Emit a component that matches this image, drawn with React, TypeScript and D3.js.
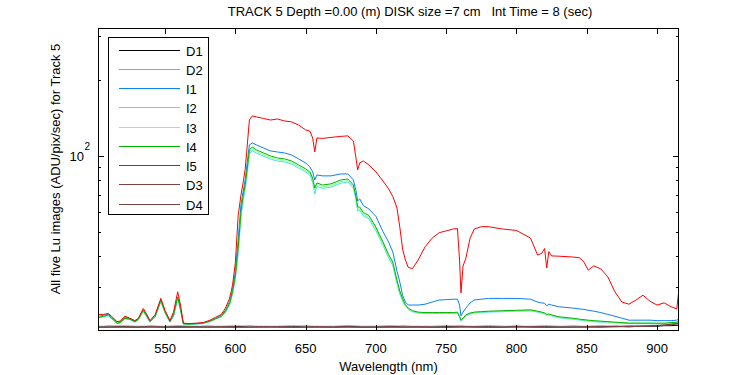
import React from "react";
import * as d3 from "d3";

// ---------- DATA ----------
const WL = [
  503, 506, 509.6, 512, 515.8, 518, 521.5, 525, 528.6, 531,
  534.5, 537, 539.3, 543, 547, 550, 553.5, 556, 559, 561,
  563, 567, 572, 577, 582, 586, 590, 593, 596, 598,
  600, 602, 604, 605.5, 607, 608.5, 610, 612, 615, 620,
  625, 630, 635, 640, 645, 650, 653, 655, 656.5, 658,
  662, 668, 675, 680, 684, 686, 687, 688.5, 691, 695,
  700, 705, 709, 712, 715, 717, 719, 721, 723, 726,
  730, 735, 740, 745, 750, 755, 758, 759.5, 760.5, 762,
  764, 767, 770, 775, 780, 790, 800, 810, 815, 818,
  820, 821.5, 823, 825, 830, 840, 845, 848, 851, 855,
  860, 865, 870, 875, 880, 885, 890, 895, 900, 905,
  910, 914, 915.5,
];

const I5 = [
  23.4, 23.4, 23.6, 23.0, 21.9, 22.0, 23.0, 22.6, 22.1, 22.6,
  24.7, 23.4, 22.1, 23.4, 27.1, 24.3, 22.1, 23.9, 28.8, 25.5,
  21.6, 21.5, 21.6, 21.7, 22.2, 22.8, 23.4, 24.8, 27.2, 30.6,
  37.5, 57.7, 69.9, 78.1, 88.4, 110.6, 139.1, 144.3, 143.0, 141.0,
  139.0, 140.3, 137.8, 136.6, 132.8, 126.9, 125.6, 117.9, 103.7, 117.9,
  117.4, 118.5, 119.6, 120.2, 114.6, 96.4, 88.0, 93.8, 95.5, 92.1,
  86.4, 79.5, 74.0, 69.0, 62.0, 52.0, 42.5, 38.5, 36.0, 35.6,
  38.5, 43.5, 47.1, 49.5, 50.3, 51.2, 51.4, 38.5, 28.5, 36.5,
  39.2, 47.1, 51.2, 52.3, 52.3, 51.2, 50.5, 47.1, 40.3, 41.0,
  42.8, 35.8, 41.6, 40.0, 39.9, 39.6, 39.3, 37.8, 35.1, 36.5,
  35.5, 33.0, 28.8, 26.2, 25.7, 26.7, 27.9, 26.4, 25.5, 26.0,
  25.1, 24.6, 29.2,
];

const I1 = [
  23.0, 23.2, 23.4, 22.8, 21.8, 21.8, 22.8, 22.5, 22.0, 22.4,
  24.3, 23.3, 21.9, 23.0, 26.4, 23.9, 21.9, 23.0, 27.4, 24.8,
  21.5, 21.4, 21.5, 21.6, 22.0, 22.6, 23.2, 24.3, 26.4, 29.2,
  34.5, 46.3, 63.8, 71.9, 80.2, 94.6, 110.6, 112.7, 110.6, 107.6,
  104.7, 103.7, 102.8, 100.9, 97.3, 93.8, 90.4, 86.4, 80.2, 84.0,
  83.3, 83.3, 84.8, 84.8, 80.2, 71.9, 66.2, 67.4, 63.5, 61.5,
  57.5, 50.0, 45.5, 41.5, 34.8, 31.5, 27.8, 26.2, 25.5, 25.5,
  25.5, 25.7, 26.2, 26.7, 26.8, 26.9, 26.9, 25.5, 23.1, 23.9,
  24.8, 26.0, 26.7, 26.9, 27.1, 27.1, 27.1, 26.9, 26.2, 26.0,
  25.9, 25.3, 25.7, 25.5, 25.1, 24.8, 24.6, 24.5, 24.3, 24.1,
  23.8, 23.4, 23.0, 22.6, 22.2, 22.2, 22.2, 22.2, 22.1, 22.1,
  22.1, 22.2, 22.4,
];

const I2 = [
  22.7, 22.9, 23.1, 22.5, 21.6, 21.6, 22.5, 22.3, 21.8, 22.2,
  24.0, 22.9, 21.8, 22.9, 26.3, 23.7, 21.8, 23.1, 27.0, 24.3,
  21.4, 21.3, 21.4, 21.5, 21.9, 22.4, 22.9, 23.8, 25.6, 28.1,
  32.4, 41.0, 57.0, 66.5, 73.8, 86.5, 102.0, 105.2, 102.6, 99.8,
  97.2, 95.4, 94.6, 92.8, 89.5, 86.3, 84.0, 78.5, 70.5, 75.6,
  74.3, 75.1, 77.9, 78.7, 74.4, 66.0, 60.4, 60.8, 57.8, 56.2,
  50.4, 44.2, 39.3, 36.6, 31.0, 28.2, 26.4, 25.2, 24.5, 24.0,
  23.7, 23.6, 23.6, 23.6, 23.6, 23.6, 23.7, 22.8, 22.0, 22.4,
  23.1, 23.5, 23.7, 23.8, 23.9, 24.0, 24.1, 24.2, 23.9, 23.7,
  23.5, 23.2, 23.3, 23.1, 22.7, 22.4, 22.2, 22.1, 22.0, 21.9,
  21.8, 21.8, 21.7, 21.6, 21.5, 21.5, 21.5, 21.5, 21.5, 21.5,
  21.5, 21.6, 21.8,
];

const I3 = [
  22.8, 23.0, 23.2, 22.6, 21.7, 21.7, 22.6, 22.4, 21.9, 22.3,
  24.2, 23.0, 21.9, 23.0, 26.6, 23.8, 21.9, 23.2, 27.3, 24.5,
  21.5, 21.4, 21.5, 21.6, 22.0, 22.5, 23.0, 24.0, 25.9, 28.5,
  32.9, 42.0, 58.5, 68.2, 75.4, 88.0, 103.8, 107.0, 104.2, 101.3,
  98.6, 96.8, 95.9, 94.1, 90.8, 87.5, 85.1, 80.4, 73.2, 76.9,
  75.4, 76.2, 79.0, 79.8, 75.4, 66.9, 61.6, 61.6, 58.6, 57.1,
  51.2, 44.8, 39.9, 37.2, 31.5, 28.6, 26.7, 25.4, 24.6, 24.1,
  23.8, 23.7, 23.7, 23.7, 23.7, 23.7, 23.8, 22.9, 22.1, 22.5,
  23.2, 23.6, 23.8, 23.9, 24.0, 24.1, 24.2, 24.3, 24.0, 23.8,
  23.6, 23.3, 23.4, 23.2, 22.8, 22.5, 22.3, 22.2, 22.1, 22.0,
  21.9, 21.8, 21.7, 21.7, 21.6, 21.6, 21.6, 21.6, 21.5, 21.5,
  21.6, 21.7, 21.9,
];

const I4 = [
  22.8, 23.0, 23.3, 22.6, 21.6, 21.7, 22.6, 22.4, 21.9, 22.4,
  24.3, 23.0, 21.9, 23.0, 26.7, 23.9, 21.9, 23.3, 27.4, 24.5,
  21.5, 21.4, 21.5, 21.6, 22.0, 22.5, 23.0, 24.1, 26.0, 28.8,
  33.3, 43.0, 59.8, 69.3, 76.6, 89.6, 105.7, 108.6, 105.7, 102.8,
  100.0, 98.2, 97.3, 95.5, 92.1, 88.8, 86.4, 81.7, 74.6, 78.1,
  76.6, 77.4, 80.2, 81.0, 76.6, 68.0, 62.6, 62.6, 59.5, 58.0,
  52.0, 45.5, 40.5, 37.8, 32.0, 29.0, 27.0, 25.6, 24.8, 24.2,
  23.9, 23.8, 23.8, 23.8, 23.8, 23.8, 23.9, 23.0, 22.2, 22.6,
  23.3, 23.7, 23.9, 24.0, 24.1, 24.2, 24.3, 24.4, 24.1, 23.9,
  23.7, 23.4, 23.5, 23.3, 22.9, 22.6, 22.4, 22.3, 22.2, 22.1,
  22.0, 21.9, 21.8, 21.7, 21.6, 21.6, 21.6, 21.6, 21.6, 21.6,
  21.7, 21.8, 22.0,
];

const DARK_WL = [
  503, 510, 520, 530, 540, 550, 560, 570, 580, 590,
  600, 610, 620, 630, 640, 650, 660, 670, 680, 690,
  700, 710, 720, 730, 740, 750, 760, 770, 780, 790,
  800, 810, 820, 830, 840, 850, 860, 870, 880, 890,
  900, 905, 910, 915.5,
];

const D1 = [
  20.9, 21.0, 20.9, 20.9, 21.0, 20.9, 20.9, 20.9, 21.0, 20.9,
  20.9, 21.0, 20.9, 20.9, 20.9, 21.0, 20.9, 20.9, 21.0, 20.9,
  20.9, 20.9, 21.0, 20.9, 20.9, 20.9, 21.0, 20.9, 20.9, 20.9,
  21.0, 20.9, 20.9, 20.9, 21.0, 20.9, 20.9, 21.0, 20.9, 21.0,
  21.0, 21.1, 21.1, 21.2,
];
const D2 = [
  21.0, 21.0, 21.1, 21.0, 21.0, 21.0, 21.1, 21.0, 21.0, 21.0,
  21.1, 21.0, 21.0, 21.0, 21.1, 21.0, 21.0, 21.0, 21.1, 21.0,
  21.0, 21.1, 21.0, 21.0, 21.0, 21.1, 21.0, 21.0, 21.1, 21.0,
  21.0, 21.0, 21.1, 21.0, 21.0, 21.0, 21.1, 21.0, 21.1, 21.1,
  21.2, 21.3, 21.4, 21.5,
];
const D3 = [
  20.8, 20.8, 20.9, 20.8, 20.8, 20.8, 20.8, 20.9, 20.8, 20.8,
  20.8, 20.8, 20.9, 20.8, 20.8, 20.8, 20.9, 20.8, 20.8, 20.8,
  20.8, 20.9, 20.8, 20.8, 20.8, 20.8, 20.9, 20.8, 20.8, 20.8,
  20.9, 20.8, 20.8, 20.8, 20.8, 20.9, 20.8, 20.9, 20.9, 21.0,
  21.1, 21.2, 21.4, 21.6,
];
const D4 = [
  20.8, 20.8, 20.8, 20.8, 20.9, 20.8, 20.8, 20.8, 20.8, 20.9,
  20.8, 20.8, 20.8, 20.9, 20.8, 20.8, 20.8, 20.8, 20.9, 20.8,
  20.8, 20.8, 20.8, 20.9, 20.8, 20.8, 20.8, 20.9, 20.8, 20.8,
  20.8, 20.9, 20.8, 20.8, 20.8, 20.8, 20.9, 20.9, 21.0, 21.0,
  21.1, 21.2, 21.3, 21.5,
];

const SERIES_NAMES = ["D1", "D2", "I1", "I2", "I3", "I4", "I5", "D3", "D4"];
const SERIES_COLORS = ["#000000", "#a0a0a0", "#0a80f5", "#3ee0f5", "#80ff80", "#00b400", "#ff0000", "#804040", "#7a4444"];

const X_TICKS = [550, 600, 650, 700, 750, 800, 850, 900];
const Y_MINOR = [30, 40, 50, 60, 70, 80, 90, 200, 300];
const Y_MAJOR = [100];

const TITLE = "TRACK 5 Depth =0.00 (m) DISK size =7 cm   Int Time = 8 (sec)";
const X_LABEL = "Wavelength (nm)";
const Y_LABEL = "All five Lu images (ADU/pix/sec) for Track 5";

// ---------- LAYOUT ----------
const W = 750;
const H = 375;
const L = 98;
const R = 679;
const T = 28;
const B = 331;
const FONT = "'Liberation Sans', Arial, Helvetica, sans-serif";
const FS = 13;

export default function App() {
  const x = d3.scaleLinear().domain([502.3, 915.6]).range([L, R]);
  const y = d3.scaleLog().domain([20.1, 323]).range([B, T]);
  const line = d3
    .line<[number, number]>()
    .x((d) => x(d[0]))
    .y((d) => y(d[1]));

  const seriesData: [number, number][][] = [
    DARK_WL.map((w, i) => [w, D1[i]] as [number, number]),
    DARK_WL.map((w, i) => [w, D2[i]] as [number, number]),
    WL.map((w, i) => [w, I1[i]] as [number, number]),
    WL.map((w, i) => [w, I2[i]] as [number, number]),
    WL.map((w, i) => [w, I3[i]] as [number, number]),
    WL.map((w, i) => [w, I4[i]] as [number, number]),
    WL.map((w, i) => [w, I5[i]] as [number, number]),
    DARK_WL.map((w, i) => [w, D3[i]] as [number, number]),
    DARK_WL.map((w, i) => [w, D4[i]] as [number, number]),
  ];

  const px = (v: number) => Math.round(v) + 0.5;

  const legendX = 108.5;
  const legendY = 37.5;
  const legendW = 100;
  const legendH = 177;
  const rowStep = 19.25;
  const row0 = 49.5;

  return (
    <svg
      width={W}
      height={H}
      style={{ position: "absolute", left: 0, top: 0, background: "#fff" }}
      fontFamily={FONT}
    >
      <rect x={0} y={0} width={W} height={H} fill="#fff" />
      <defs>
        <clipPath id="plotClip">
          <rect x={L} y={T} width={R - L} height={B - T} />
        </clipPath>
      </defs>

      {/* series */}
      <g clipPath="url(#plotClip)">
        {seriesData.map((d, i) => (
          <path
            key={SERIES_NAMES[i]}
            d={line(d) || ""}
            fill="none"
            stroke={SERIES_COLORS[i]}
            strokeWidth={1}
          />
        ))}
      </g>

      {/* frame */}
      <rect
        x={L + 0.5}
        y={T + 0.5}
        width={R - L - 1}
        height={B - T - 1}
        fill="none"
        stroke="#000"
        strokeWidth={1}
        shapeRendering="crispEdges"
      />

      {/* ticks */}
      <g shapeRendering="crispEdges" stroke="#000">
        {X_TICKS.map((t) => (
          <g key={"xt" + t}>
            <line x1={px(x(t))} x2={px(x(t))} y1={B} y2={B - 6} />
            <line x1={px(x(t))} x2={px(x(t))} y1={T} y2={T + 6} />
          </g>
        ))}
        {Y_MAJOR.map((t) => (
          <g key={"ymj" + t}>
            <line x1={L} x2={L + 6} y1={px(y(t))} y2={px(y(t))} />
            <line x1={R} x2={R - 6} y1={px(y(t))} y2={px(y(t))} />
          </g>
        ))}
        {Y_MINOR.map((t) => (
          <g key={"ymn" + t}>
            <line x1={L} x2={L + 3} y1={px(y(t))} y2={px(y(t))} />
            <line x1={R} x2={R - 3} y1={px(y(t))} y2={px(y(t))} />
          </g>
        ))}
      </g>

      {/* x tick labels */}
      {X_TICKS.map((t) => (
        <text key={"xl" + t} x={x(t)} y={353} fontSize={FS} textAnchor="middle" fill="#000">
          {t}
        </text>
      ))}

      {/* y major label 10^2 */}
      {Y_MAJOR.map((t) => (
        <g key={"yl" + t}>
          <text x={84} y={y(t) + 5.5} fontSize={FS} textAnchor="end" fill="#000">
            10
          </text>
          <text x={84.5} y={y(t) - 6} fontSize={10} textAnchor="start" fill="#000">
            {Math.round(Math.log10(t))}
          </text>
        </g>
      ))}

      {/* title & labels */}
      <text x={410} y={16} fontSize={FS} textAnchor="middle" fill="#000" style={{ whiteSpace: "pre" }}>
        {TITLE}
      </text>
      <text x={(L + R) / 2} y={371} fontSize={FS} textAnchor="middle" fill="#000">
        {X_LABEL}
      </text>
      <text
        transform={`translate(60, 169) rotate(-90)`}
        fontSize={FS}
        textAnchor="middle"
        fill="#000"
      >
        {Y_LABEL}
      </text>

      {/* legend */}
      <rect
        x={legendX}
        y={legendY}
        width={legendW}
        height={legendH}
        fill="#fff"
        stroke="#000"
        strokeWidth={1}
        shapeRendering="crispEdges"
      />
      {SERIES_NAMES.map((n, i) => {
        const cy = Math.round(row0 + i * rowStep) + 0.5;
        return (
          <g key={"lg" + n}>
            <line x1={119} x2={180} y1={cy} y2={cy} stroke={SERIES_COLORS[i]} strokeWidth={1} shapeRendering="crispEdges" />
            <text x={186} y={cy + 5} fontSize={FS} fill="#000">
              {n}
            </text>
          </g>
        );
      })}
    </svg>
  );
}
